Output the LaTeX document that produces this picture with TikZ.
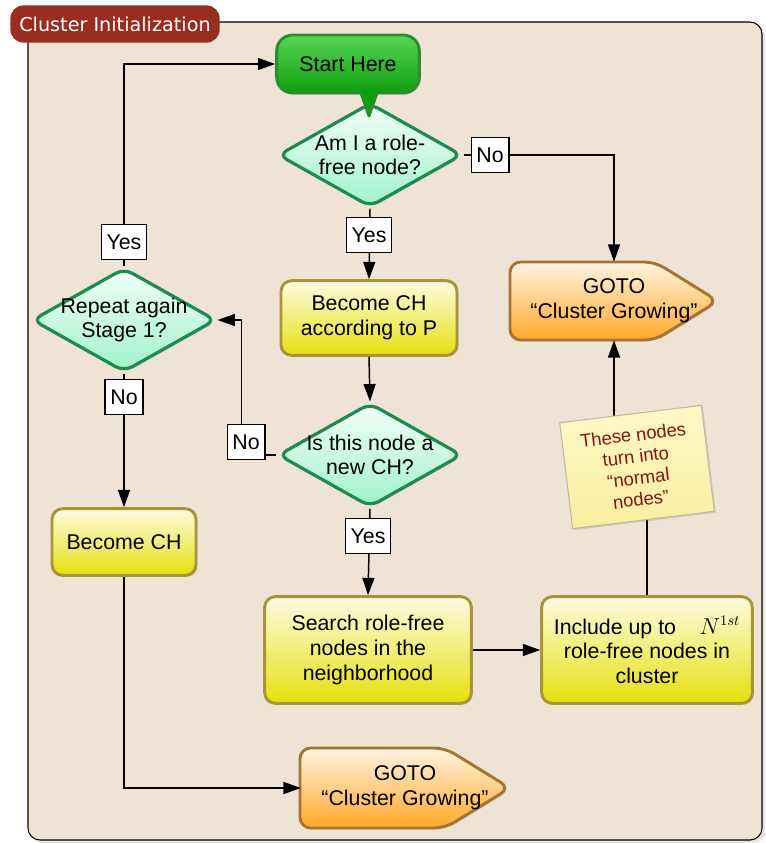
\documentclass[tikz,border=0pt]{standalone}
\usepackage{fontspec}
\setmainfont{Liberation Sans}
\newfontfamily\titlefont{DejaVu Sans}
\usetikzlibrary{shapes.geometric,shadows,arrows.meta}

\definecolor{framebg}{RGB}{239,227,214}
\definecolor{titlered}{RGB}{152,45,32}
\definecolor{dgreen}{RGB}{30,138,76}
\definecolor{dtop}{RGB}{242,255,248}
\definecolor{dbot}{RGB}{160,242,204}
\definecolor{ptop}{RGB}{254,251,226}
\definecolor{pbot}{RGB}{230,224,12}
\definecolor{pline}{RGB}{170,148,56}
\definecolor{gtop}{RGB}{255,244,226}
\definecolor{gbot}{RGB}{255,168,38}
\definecolor{gline}{RGB}{166,116,50}
\definecolor{stop}{RGB}{86,214,86}
\definecolor{sbot}{RGB}{14,158,14}
\definecolor{sline}{RGB}{46,140,46}
\definecolor{ntop}{RGB}{253,248,200}
\definecolor{nbot}{RGB}{250,238,160}
\definecolor{nline}{RGB}{190,188,160}
\definecolor{nred}{RGB}{130,22,22}

\begin{document}
\begin{tikzpicture}[x=0.75pt, y=-0.75pt,
    every node/.style={font=\fontsize{16}{18.5}\selectfont, align=center},
    soft/.style={drop shadow={opacity=0.25, shadow xshift=1.2pt, shadow yshift=-1.2pt}},
    decision/.style={diamond, aspect=1.77, draw=dgreen, line width=2.4pt, rounded corners=7pt,
        top color=dtop, bottom color=dbot, inner sep=-8pt, minimum width=138pt, minimum height=78pt, soft},
    process/.style={rectangle, draw=pline, line width=2.2pt, rounded corners=8pt,
        top color=ptop, bottom color=pbot, soft},
    gotoshape/.style={draw=gline, line width=2.2pt, rounded corners=8pt, top color=gtop, bottom color=gbot, soft},
    gotonode/.style={rectangle, inner sep=0pt, minimum width=156pt, minimum height=58.5pt},
    startbox/.style={rectangle, draw=sline, line width=2.2pt, rounded corners=12pt, top color=stop, bottom color=sbot,
        minimum width=107pt, minimum height=43.5pt, soft},
    lbl/.style={draw, fill=white, line width=0.8pt, inner xsep=4pt, inner ysep=2pt, minimum height=26pt},
    note/.style={draw=nline, line width=0.8pt, top color=ntop, bottom color=nbot, text=nred, rotate=7,
        minimum width=107pt, minimum height=80pt, font=\fontsize{13.8}{16.2}\selectfont, soft},
    arr/.style={line width=1.1pt, -{Triangle[length=13pt, width=9pt]}}
]
\useasboundingbox (0,0) rectangle (765,843);

% frame and title tab
\draw[fill=framebg, line width=0.8pt, rounded corners=9pt, drop shadow={opacity=0.2}] (28,22) rectangle (762,840);
\node[fill=titlered, text=white, rounded corners=10pt, minimum width=157pt, minimum height=28pt,
    font=\titlefont\fontsize{14.4}{16}\selectfont] (title) at (115,24) {Cluster Initialization};

% main steps
\node[decision] (role) at (370,155) {Am I a role-\\free node?};
\node[startbox] (start) at (348,64) {Start Here};
% pointer of the start bubble
\fill[sbot] (360,89) -- (369,116) -- (378,89) -- cycle;
\draw[sline, line width=2.2pt, line join=round] (361,93) -- (369,116) -- (377,93);
\node[process, minimum width=132pt, minimum height=56pt] (becomeP) at (369,318) {Become CH\\according to P};
\node[decision] (newch) at (370,455) {Is this node a\\new CH?};
\node[process, minimum width=155pt, minimum height=80pt] (search) at (368,650) {Search role-free\\nodes in the\\neighborhood};
\node[process, minimum width=158pt, minimum height=80pt] (include) at (647,650) {Include up to\hspace{1.1em}$N^{1st}$\\role-free nodes in\\cluster};
\draw[gotoshape] (510,262) -- (655,262) -- (718,301) -- (655,340) -- (510,340) -- cycle;
\node[gotonode] (grow1) at (614,301) {GOTO\\“Cluster Growing”};

% repeat branch
\node[decision] (repeat) at (124,320) {Repeat again\\Stage 1?};
\node[process, minimum width=108pt, minimum height=50pt] (becomeCH) at (124,542) {Become CH};
\draw[gotoshape] (300,748) -- (445,748) -- (510,788) -- (445,828) -- (300,828) -- cycle;
\node[gotonode] (grow2) at (405,788) {GOTO\\“Cluster Growing”};

% connectors
\draw[arr] (role.east) -| (grow1.north);
\draw[arr] (role.south) -- (becomeP.north);
\draw[arr] (becomeP.south) -- (newch.north);
\draw[arr] (newch.south) -- (search.north);
\draw[arr] (search.east) -- (include.west);
\draw[arr] (include.north) -- ++(0,-130) -| (grow1.south);
\draw[arr] (newch.west) -- ++(-35,0) |- (repeat.east);
\draw[arr] (repeat.north) |- (start.west);
\draw[arr] (repeat.south) -- (becomeCH.north);
\draw[arr] (becomeCH.south) |- (grow2.west);

% yes/no labels
\node[lbl] (noRole) at (490,155) {No};
\node[lbl] (yesRole) at (369,235) {Yes};
\node[lbl] (noNew) at (246,442) {No};
\node[lbl] (yesNew) at (368,536) {Yes};
\node[lbl] (yesRep) at (124,242) {Yes};
\node[lbl] (noRep) at (124,397) {No};

% sticky note
\node[note] (remark) at (637,467) {These nodes\\turn into\\“normal\\nodes”};

\end{tikzpicture}
\end{document}
